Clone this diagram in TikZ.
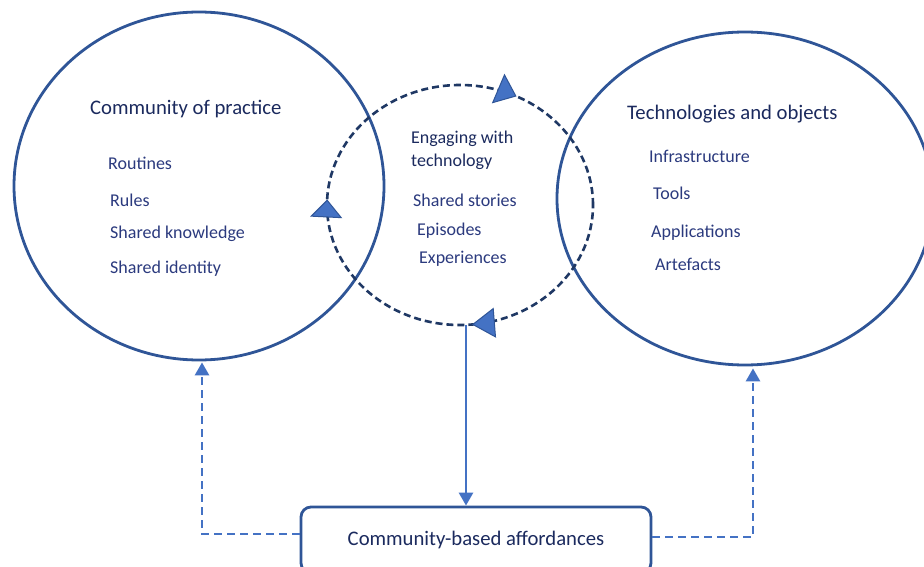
\documentclass[tikz,border=0pt]{standalone}
\usepackage{fontspec}
\setmainfont{Carlito}
\usetikzlibrary{arrows.meta,decorations.markings,shapes.geometric}
\definecolor{ellblue}{HTML}{2F5597}
\definecolor{navy}{HTML}{1F3864}
\definecolor{lblue}{HTML}{4472C4}
\definecolor{txtnavy}{HTML}{1B2A5E}
\definecolor{itemnavy}{HTML}{2B3A7E}
\tikzset{
  bigell/.style={ellipse, draw=ellblue, line width=2.8pt, inner sep=0pt},
  titletxt/.style={anchor=base west, inner sep=0pt, text=txtnavy, font=\fontsize{20.7}{24}\selectfont},
  midtitle/.style={anchor=base west, inner sep=0pt, text=txtnavy, font=\fontsize{18}{21}\selectfont, align=left},
  itemtxt/.style={anchor=base west, inner sep=0pt, text=itemnavy, font=\fontsize{18}{21}\selectfont},
  conn/.style={draw=lblue, line width=2.7pt, -{Triangle[length=13pt,width=14pt]}},
  dconn/.style={conn, dash pattern=on 8pt off 5pt},
}
\begin{document}
\begin{tikzpicture}[x=1pt,y=-1pt]
\useasboundingbox (0,0) rectangle (924,567);
\clip (0,0) rectangle (924,567);
\fill[white] (0,0) rectangle (924,567);

% big ellipses
\node[bigell, minimum width=370pt, minimum height=348pt] (cop) at (199,186) {};
\node[bigell, minimum width=376pt, minimum height=333pt] (tech) at (745,198.5) {};

% engaging cycle
\node[ellipse, minimum width=266pt, minimum height=240pt, inner sep=0pt] (eng) at (460,205) {};
\draw[navy, line width=2.6pt, dash pattern=on 7pt off 4pt,
  decoration={markings,
    mark=at position 0.177 with {\arrowreversed{Triangle[length=20pt,width=32pt,fill=lblue,color=ellblue,line width=1pt]}},
    mark=at position 0.493 with {\arrowreversed{Triangle[length=18pt,width=32pt,fill=lblue,color=ellblue,line width=1pt]}},
    mark=at position 0.765 with {\arrowreversed{Triangle[length=23pt,width=30pt,fill=lblue,color=ellblue,line width=1pt]}}},
  postaction={decorate}]
  (eng.center) ellipse [x radius=133pt, y radius=120pt];

% box
\node[draw=ellblue, line width=2.8pt, rounded corners=10pt, minimum width=350pt, minimum height=66pt,
      text=txtnavy, font=\fontsize{20.7}{24}\selectfont, inner sep=0pt] (box) at (476,540) {Community-based affordances};

% connectors
\coordinate (mid) at ([xshift=6pt]eng.south);
\draw[conn] (mid) -- (mid |- box.north);
\coordinate (lefttop) at ([xshift=3pt,yshift=-1pt]cop.south);
\draw[dconn] ([yshift=6pt]box.west) -| (lefttop);
\coordinate (righttop) at ([xshift=8pt,yshift=-2pt]tech.south);
\draw[dconn] ([yshift=3pt]box.east) -| (righttop);

% texts left
\node[titletxt] (copt) at (90,115) {Community of practice};
\node[itemtxt] (r1) at (108,170) {Routines};
\node[itemtxt] (r2) at (110,206) {Rules};
\node[itemtxt] (r3) at (110,238) {Shared knowledge};
\node[itemtxt] (r4) at (110,273) {Shared identity};

% texts middle
\node[midtitle] (e1) at (411,144) {Engaging with};
\node[midtitle] (e2) at (411,167) {technology};
\node[itemtxt] (m1) at (413,207) {Shared stories};
\node[itemtxt] (m2) at (417,235) {Episodes};
\node[itemtxt] (m3) at (419,263) {Experiences};

% texts right
\node[titletxt] (techt) at (627,120) {Technologies and objects};
\node[itemtxt] (t1) at (649,163) {Infrastructure};
\node[itemtxt] (t2) at (653,200) {Tools};
\node[itemtxt] (t3) at (651,237) {Applications};
\node[itemtxt] (t4) at (655,270) {Artefacts};
\end{tikzpicture}
\end{document}
